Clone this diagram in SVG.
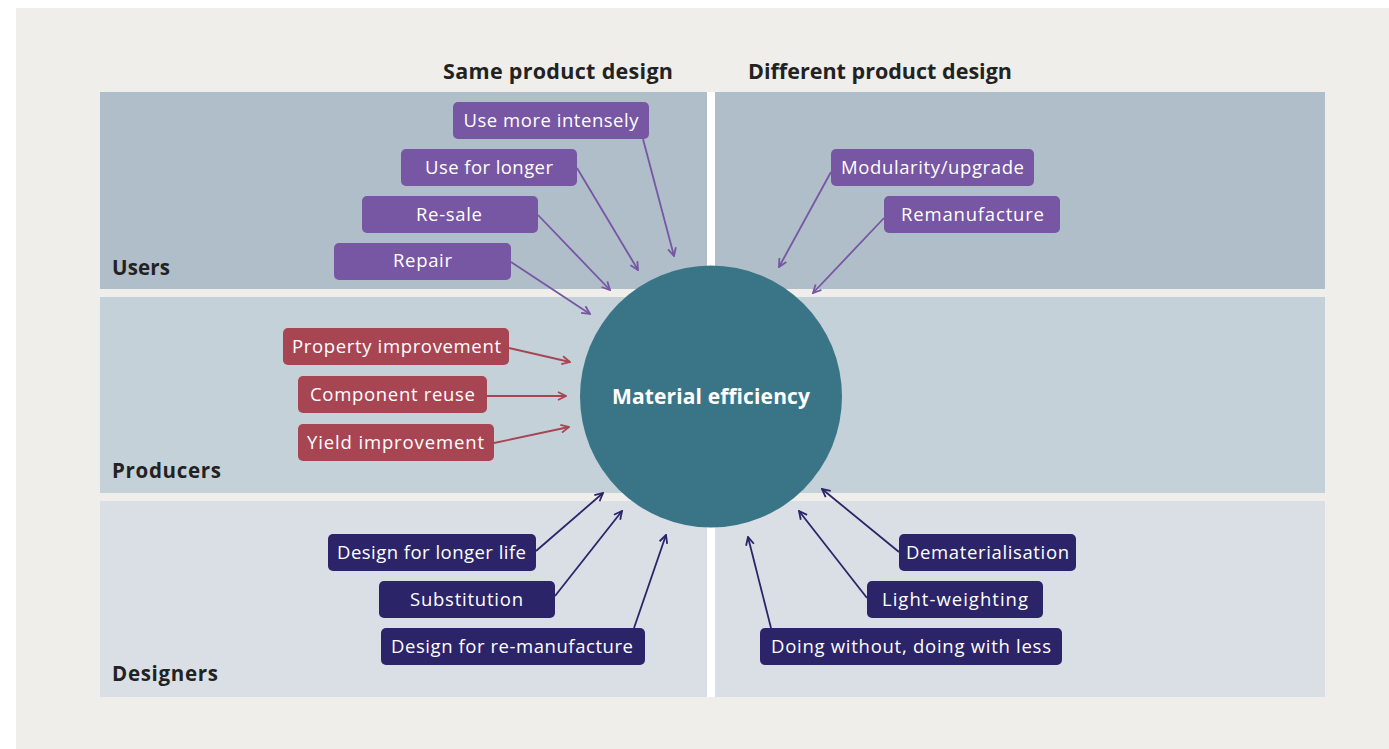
<svg xmlns="http://www.w3.org/2000/svg" width="1389" height="749" viewBox="0 0 1389 749">
<style>
.lbl{font-family:"Open Sans","Liberation Sans",sans-serif;font-size:18.5px;fill:#ffffff;text-anchor:middle}
.hdr{font-family:"Open Sans","Liberation Sans",sans-serif;font-size:21.5px;font-weight:bold;fill:#222222}
.row{font-family:"Open Sans","Liberation Sans",sans-serif;font-size:20.5px;font-weight:bold;fill:#222222}
.pu{fill:#7756a3}
.rd{fill:#a84553}
.nv{fill:#2b2468}
.cpu{stroke:#7756a3;stroke-width:1.8;fill:none;marker-end:url(#apu)}
.crd{stroke:#a84553;stroke-width:1.8;fill:none;marker-end:url(#ard)}
.cnv{stroke:#2b2468;stroke-width:1.8;fill:none;marker-end:url(#anv)}
</style>
<defs>
<marker id="apu" viewBox="0 0 10 10" refX="9" refY="5" markerWidth="10" markerHeight="10" markerUnits="userSpaceOnUse" orient="auto"><path d="M1,1 L9,5 L1,9" fill="none" stroke="#7756a3" stroke-width="1.8"/></marker>
<marker id="ard" viewBox="0 0 10 10" refX="9" refY="5" markerWidth="10" markerHeight="10" markerUnits="userSpaceOnUse" orient="auto"><path d="M1,1 L9,5 L1,9" fill="none" stroke="#a84553" stroke-width="1.8"/></marker>
<marker id="anv" viewBox="0 0 10 10" refX="9" refY="5" markerWidth="10" markerHeight="10" markerUnits="userSpaceOnUse" orient="auto"><path d="M1,1 L9,5 L1,9" fill="none" stroke="#2b2468" stroke-width="1.8"/></marker>
</defs>
<rect x="0" y="0" width="1389" height="749" fill="#ffffff"/>
<rect x="16" y="8" width="1373" height="741" fill="#efeeea"/>
<g id="panels">
<rect x="100" y="92" width="1225" height="197" fill="#b0bec9"/>
<rect x="100" y="297" width="1225" height="196" fill="#c5d1d8"/>
<rect x="100" y="501" width="1225" height="196" fill="#dadfe6"/>
<rect x="707" y="92" width="8" height="197" fill="#ffffff"/>
<rect x="707" y="501" width="8" height="196" fill="#ffffff"/>
</g>
<g id="headers">
<text class="hdr" x="443" y="79" textLength="230" lengthAdjust="spacing">Same product design</text>
<text class="hdr" x="748" y="79" textLength="264" lengthAdjust="spacing">Different product design</text>
<text class="row" x="112" y="275" textLength="58" lengthAdjust="spacing">Users</text>
<text class="row" x="112" y="478" textLength="109" lengthAdjust="spacing">Producers</text>
<text class="row" x="112" y="681" textLength="106" lengthAdjust="spacing">Designers</text>
</g>
<g id="connectors">
<line class="cpu" x1="643" y1="139" x2="674" y2="256"/>
<line class="cpu" x1="577" y1="168" x2="638" y2="270"/>
<line class="cpu" x1="538" y1="215" x2="610" y2="290"/>
<line class="cpu" x1="511" y1="262" x2="590" y2="314"/>
<line class="cpu" x1="831" y1="172" x2="779" y2="267"/>
<line class="cpu" x1="884" y1="218" x2="813" y2="293"/>
<line class="crd" x1="509" y1="348" x2="570" y2="362"/>
<line class="crd" x1="487" y1="396" x2="566" y2="396"/>
<line class="crd" x1="494" y1="443" x2="569" y2="427"/>
<line class="cnv" x1="536" y1="551" x2="603" y2="493"/>
<line class="cnv" x1="555" y1="596" x2="622" y2="511"/>
<line class="cnv" x1="634" y1="628" x2="666" y2="535"/>
<line class="cnv" x1="899" y1="552" x2="822" y2="489"/>
<line class="cnv" x1="867" y1="598" x2="799" y2="511"/>
<line class="cnv" x1="771" y1="628" x2="748" y2="537"/>
</g>
<g id="center">
<circle cx="711" cy="396.5" r="131" fill="#3a7587"/>
<text x="711" y="404" font-family="'Open Sans','Liberation Sans',sans-serif" font-size="21" font-weight="bold" fill="#ffffff" text-anchor="middle" textLength="198" lengthAdjust="spacing">Material efficiency</text>
</g>
<g id="n-use-more-intensely"><rect class="pu" x="453" y="102" width="196" height="37" rx="5"/><text class="lbl" x="551" y="127" textLength="175" lengthAdjust="spacing">Use more intensely</text></g>
<g id="n-use-for-longer"><rect class="pu" x="401" y="149" width="176" height="37" rx="5"/><text class="lbl" x="489" y="174" textLength="128" lengthAdjust="spacing">Use for longer</text></g>
<g id="n-re-sale"><rect class="pu" x="362" y="196" width="176" height="37" rx="5"/><text class="lbl" x="449" y="221" textLength="66" lengthAdjust="spacing">Re-sale</text></g>
<g id="n-repair"><rect class="pu" x="334" y="243" width="177" height="37" rx="5"/><text class="lbl" x="422.5" y="267" textLength="59" lengthAdjust="spacing">Repair</text></g>
<g id="n-modularity"><rect class="pu" x="831" y="149" width="203" height="37" rx="5"/><text class="lbl" x="932.5" y="174" textLength="183" lengthAdjust="spacing">Modularity/upgrade</text></g>
<g id="n-remanufacture"><rect class="pu" x="884" y="196" width="176" height="37" rx="5"/><text class="lbl" x="972.5" y="221" textLength="143" lengthAdjust="spacing">Remanufacture</text></g>
<g id="n-property"><rect class="rd" x="283" y="328" width="226" height="37" rx="5"/><text class="lbl" x="396.5" y="353" textLength="209" lengthAdjust="spacing">Property improvement</text></g>
<g id="n-component"><rect class="rd" x="298" y="376" width="189" height="37" rx="5"/><text class="lbl" x="392.5" y="401" textLength="165" lengthAdjust="spacing">Component reuse</text></g>
<g id="n-yield"><rect class="rd" x="298" y="424" width="196" height="37" rx="5"/><text class="lbl" x="395.5" y="449" textLength="177" lengthAdjust="spacing">Yield improvement</text></g>
<g id="n-design-longer"><rect class="nv" x="328" y="534" width="208" height="37" rx="5"/><text class="lbl" x="431.5" y="559" textLength="189" lengthAdjust="spacing">Design for longer life</text></g>
<g id="n-substitution"><rect class="nv" x="379" y="581" width="176" height="37" rx="5"/><text class="lbl" x="466.5" y="606" textLength="113" lengthAdjust="spacing">Substitution</text></g>
<g id="n-design-reman"><rect class="nv" x="381" y="628" width="264" height="37" rx="5"/><text class="lbl" x="512" y="653" textLength="242" lengthAdjust="spacing">Design for re-manufacture</text></g>
<g id="n-demat"><rect class="nv" x="899" y="534" width="177" height="37" rx="5"/><text class="lbl" x="987.5" y="559" textLength="163" lengthAdjust="spacing">Dematerialisation</text></g>
<g id="n-light"><rect class="nv" x="867" y="581" width="176" height="37" rx="5"/><text class="lbl" x="955" y="606" textLength="146" lengthAdjust="spacing">Light-weighting</text></g>
<g id="n-doing"><rect class="nv" x="760" y="628" width="302" height="37" rx="5"/><text class="lbl" x="911" y="653" textLength="280" lengthAdjust="spacing">Doing without, doing with less</text></g>
</svg>
